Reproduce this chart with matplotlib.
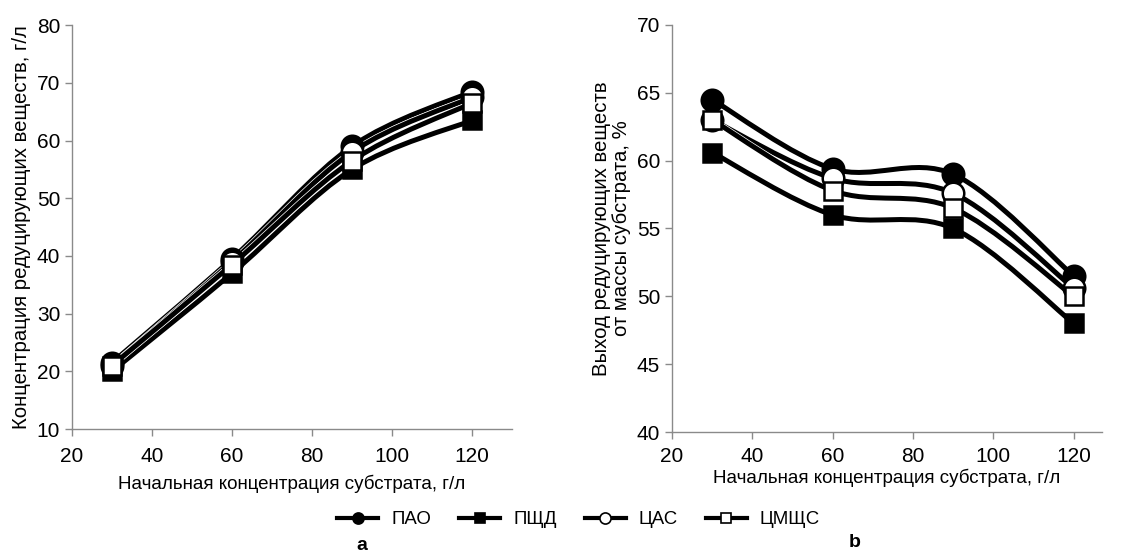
import numpy as np
import matplotlib.pyplot as plt
import matplotlib.patheffects as pe
from matplotlib.path import Path
from matplotlib.patches import PathPatch
from matplotlib.lines import Line2D

plt.rcParams['font.family'] = ['Liberation Sans', 'DejaVu Sans']

# ---------------------------------------------------------
# Data
# ---------------------------------------------------------
x_conc = [30, 60, 90, 120]

names = ["ПАО", "ПЩД", "ЦАС", "ЦМЩС"]

# panel a: concentration of reducing substances, g/l
a_pao = [21.5, 39.5, 59.0, 68.5]
a_pschd = [20.0, 37.0, 55.0, 63.5]
a_cas = [21.0, 39.0, 58.0, 67.5]
a_cmschs = [21.0, 38.5, 56.5, 66.5]

# panel b: yield, % of substrate mass
b_pao = [64.5, 59.4, 59.0, 51.5]
b_pschd = [60.6, 56.0, 55.0, 48.0]
b_cas = [63.0, 58.7, 57.6, 50.6]
b_cmschs = [63.0, 57.8, 56.5, 50.0]

markers = ['o', 's', 'o', 's']
faces = ['black', 'black', 'white', 'white']
msizes = [15.5, 12.5, 15.5, 12.5]


def smooth_path(xs, ys):
    """Excel-like smoothed line as a cubic bezier path through the points"""
    pts = np.column_stack([xs, ys]).astype(float)
    n = len(pts)
    verts = [pts[0]]
    codes = [Path.MOVETO]
    for i in range(n - 1):
        p0 = pts[i - 1] if i > 0 else pts[i]
        p1 = pts[i]
        p2 = pts[i + 1]
        p3 = pts[i + 2] if i + 2 < n else pts[i + 1]
        c1 = p1 + (p2 - p0) / 6.0
        c2 = p2 - (p3 - p1) / 6.0
        verts += [c1, c2, p2]
        codes += [Path.CURVE4] * 3
    return Path(verts, codes)


def draw_panel(ax, series, ylim, yticks, ylabel, xmax, xpad, xlabpad):
    for k, ys in enumerate(series):
        patch = PathPatch(smooth_path(x_conc, ys), facecolor='none',
                          edgecolor='black', lw=3.6, zorder=2, capstyle='round')
        patch.set_path_effects([pe.Stroke(linewidth=4.6, foreground='white'),
                                pe.Normal()])
        ax.add_patch(patch)
    for k, ys in enumerate(series):
        ax.plot(x_conc, ys, linestyle='none', marker=markers[k],
                markersize=msizes[k], markerfacecolor=faces[k],
                markeredgecolor='black', markeredgewidth=1.8, zorder=3 + k)
    ax.set_xlim(20, xmax)
    ax.set_ylim(*ylim)
    ax.set_xticks([20, 40, 60, 80, 100, 120])
    ax.set_yticks(yticks)
    for s in ['top', 'right']:
        ax.spines[s].set_visible(False)
    for s in ['left', 'bottom']:
        ax.spines[s].set_color('#8a8a8a')
        ax.spines[s].set_linewidth(1.0)
    ax.tick_params(colors='#8a8a8a', labelcolor='black', labelsize=15,
                   length=5, width=1.0, direction='out')
    ax.tick_params(axis='x', pad=xpad)
    ax.set_xlabel("Начальная концентрация субстрата, г/л", fontsize=13.5,
                  labelpad=xlabpad)
    ax.set_ylabel(ylabel, fontsize=14.7, labelpad=4, linespacing=1.1)


fig = plt.figure(figsize=(11.46, 5.54), dpi=100)
ax1 = fig.add_axes([0.0628, 0.2256, 0.384, 0.729])
ax2 = fig.add_axes([0.5864, 0.2202, 0.375, 0.7347])

draw_panel(ax1, [a_pao, a_pschd, a_cas, a_cmschs], (10, 80),
           [10, 20, 30, 40, 50, 60, 70, 80],
           "Концентрация редуцирующих веществ, г/л", 130, 8, 6)
draw_panel(ax2, [b_pao, b_pschd, b_cas, b_cmschs], (40, 70),
           [40, 45, 50, 55, 60, 65, 70],
           "Выход редуцирующих веществ\nот массы субстрата, %", 127, 6, 1.5)

handles = [Line2D([0], [0], color='black', lw=3.0, marker=markers[k],
                  markersize=8 if k % 2 == 0 else 7, markerfacecolor=faces[k],
                  markeredgecolor='black', markeredgewidth=1.2)
           for k in range(4)]
fig.legend(handles, names, loc='center', bbox_to_anchor=(0.505, 0.062),
           ncol=4, frameon=False, fontsize=13.4, handlelength=2.2,
           columnspacing=1.5, handletextpad=0.7)

fig.text(0.316, 0.016, "a", fontsize=14, fontweight='bold', ha='center',
         va='center')
fig.text(0.746, 0.02, "b", fontsize=14, fontweight='bold', ha='center',
         va='center')

fig.savefig("out.png", dpi=100)
